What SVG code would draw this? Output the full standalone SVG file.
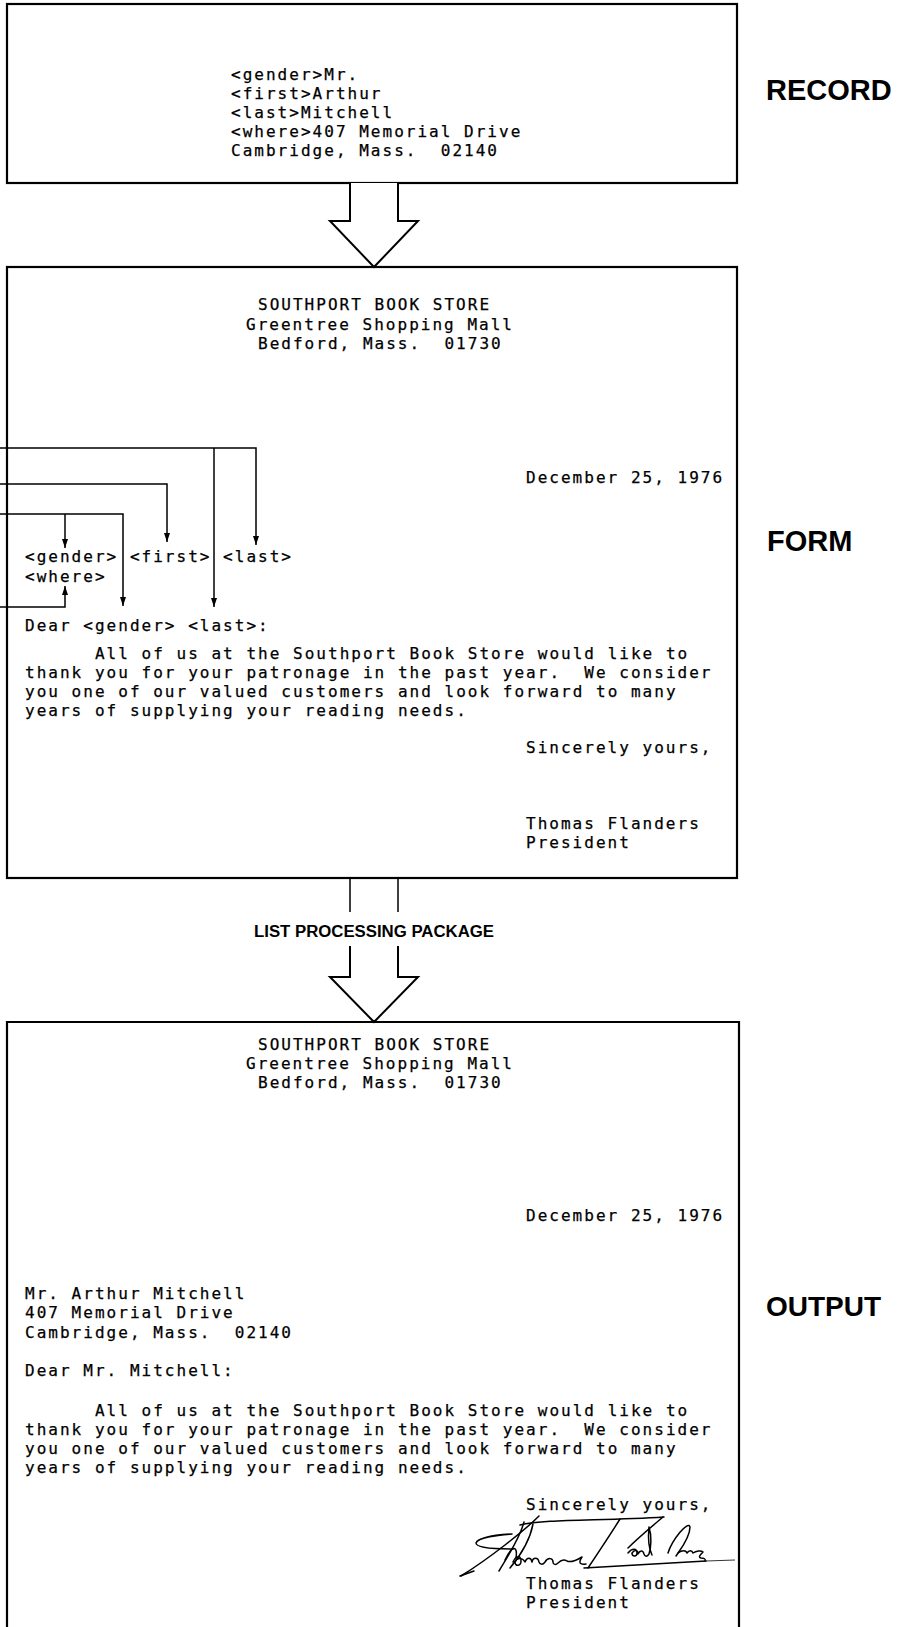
<svg xmlns="http://www.w3.org/2000/svg" width="900" height="1627" viewBox="0 0 900 1627" xml:space="preserve">
<style>
.box{fill:none;stroke:#000;stroke-width:2.2}
.tt{font-family:"DejaVu Sans Mono","Liberation Mono",monospace;font-size:16px;letter-spacing:2.02px;fill:#000;stroke:#000;stroke-width:0.25;white-space:pre}
.lbl{font-family:"Liberation Sans",Arial,sans-serif;font-weight:bold;fill:#000}
.arrow{fill:#fff;stroke:#000;stroke-width:2}
.lead{fill:none;stroke:#000;stroke-width:1.5}
.sig{fill:none;stroke:#000;stroke-width:1.5;stroke-linecap:round;stroke-linejoin:round}
</style>
<defs>
<marker id="ah" viewBox="0 0 9 6" refX="9" refY="3" markerWidth="9" markerHeight="6" markerUnits="userSpaceOnUse" orient="auto">
<path d="M0,0 L9,3 L0,6 z" fill="#000"/>
</marker>
</defs>
<rect width="900" height="1627" fill="#fff"/>

<g id="record">
<rect class="box" x="7" y="4" width="730" height="179"/>
<text class="tt" x="231" y="80">&lt;gender&gt;Mr.</text>
<text class="tt" x="231" y="99">&lt;first&gt;Arthur</text>
<text class="tt" x="231" y="118">&lt;last&gt;Mitchell</text>
<text class="tt" x="231" y="137">&lt;where&gt;407 Memorial Drive</text>
<text class="tt" x="231" y="156">Cambridge, Mass.  02140</text>
</g>
<g id="record-label">
<text class="lbl" x="766" y="100" font-size="29">RECORD</text>
</g>

<g id="form">
<rect class="box" x="7" y="267" width="730" height="611"/>
<text class="tt" x="258" y="310">SOUTHPORT BOOK STORE</text>
<text class="tt" x="246" y="330">Greentree Shopping Mall</text>
<text class="tt" x="258" y="349">Bedford, Mass.  01730</text>
<text class="tt" x="526" y="483">December 25, 1976</text>
<text class="tt" x="25" y="562">&lt;gender&gt; &lt;first&gt; &lt;last&gt;</text>
<text class="tt" x="25" y="582">&lt;where&gt;</text>
<text class="tt" x="25" y="631">Dear &lt;gender&gt; &lt;last&gt;:</text>
<text class="tt" x="25" y="659">      All of us at the Southport Book Store would like to</text>
<text class="tt" x="25" y="678">thank you for your patronage in the past year.  We consider</text>
<text class="tt" x="25" y="697">you one of our valued customers and look forward to many</text>
<text class="tt" x="25" y="716">years of supplying your reading needs.</text>
<text class="tt" x="526" y="753">Sincerely yours,</text>
<text class="tt" x="526" y="829">Thomas Flanders</text>
<text class="tt" x="526" y="848">President</text>
</g>
<g id="form-label">
<text class="lbl" x="767" y="551" font-size="29">FORM</text>
</g>

<g id="output">
<path class="box" d="M7,1630 V1022 H739 V1630"/>
<text class="tt" x="258" y="1050">SOUTHPORT BOOK STORE</text>
<text class="tt" x="246" y="1069">Greentree Shopping Mall</text>
<text class="tt" x="258" y="1088">Bedford, Mass.  01730</text>
<text class="tt" x="526" y="1221">December 25, 1976</text>
<text class="tt" x="25" y="1299">Mr. Arthur Mitchell</text>
<text class="tt" x="25" y="1318">407 Memorial Drive</text>
<text class="tt" x="25" y="1338">Cambridge, Mass.  02140</text>
<text class="tt" x="25" y="1376">Dear Mr. Mitchell:</text>
<text class="tt" x="25" y="1416">      All of us at the Southport Book Store would like to</text>
<text class="tt" x="25" y="1435">thank you for your patronage in the past year.  We consider</text>
<text class="tt" x="25" y="1454">you one of our valued customers and look forward to many</text>
<text class="tt" x="25" y="1473">years of supplying your reading needs.</text>
<text class="tt" x="526" y="1510">Sincerely yours,</text>
<text class="tt" x="526" y="1589">Thomas Flanders</text>
<text class="tt" x="526" y="1608">President</text>
<g id="signature">
<path class="sig" d="M520,1525 C545,1519 600,1521 664,1517"/>
<path class="sig" d="M512,1534 C495,1535 478,1538 476,1543 C476,1548 495,1549 513,1549"/>
<path class="sig" d="M539,1516 C525,1530 490,1558 461,1576"/>
<path class="sig" d="M524,1522 C520,1538 508,1556 499,1571"/>
<path class="sig" d="M533,1524 C530,1540 520,1556 510,1568"/>
<path class="sig" d="M505,1560 C512,1545 518,1545 516,1558"/>
<path class="sig" d="M513,1562 c3,-7 8,-7 8,-1 c0,5 -6,6 -6,1 c2,-5 8,-4 10,0 c2,-5 6,-5 7,0 c1,-5 6,-5 7,0 c1,3 4,3 6,0 c3,-5 8,-4 8,0 c0,3 3,3 5,1 c3,-3 6,-4 9,-2 c4,2 10,-1 15,-4 c-4,6 -2,8 4,7"/>
<path class="sig" d="M620,1519 C612,1532 600,1550 588,1568"/>
<path class="sig" d="M663,1517 C650,1528 638,1538 628,1548"/>
<path class="sig" d="M628,1553 c4,-5 9,-5 9,0 c0,4 -5,4 -5,0 c3,-4 6,-3 6,1 c2,-4 5,-4 6,0 c1,3 3,3 5,0 c2,-6 3,-18 0,-27 c-1,10 0,22 3,28"/>
<path class="sig" d="M668,1553 C672,1540 688,1520 690,1527 C690,1538 680,1550 676,1556"/>
<path class="sig" d="M678,1553 c4,-3 8,-3 9,0 c2,-3 5,-3 6,0 c3,-2 8,-3 10,-1 c-3,3 -5,5 -2,6 c3,0 5,1 4,3"/>
<path class="sig" d="M584,1568 C620,1566 670,1563 706,1561"/>
<path d="M706,1561 L735,1560" fill="none" stroke="#000" stroke-width="0.8"/>
<path class="sig" d="M460,1576 L474,1571"/>
</g>
</g>
<g id="output-label">
<text class="lbl" x="766" y="1316" font-size="28">OUTPUT</text>
</g>

<g id="connectors">
<path class="arrow" d="M350,183 V221 H330 L374,267 L418,221 H398 V183"/>
<path class="lead" d="M350,878 V912 M398,878 V912"/>
<path class="arrow" d="M350,946 V977 H330 L374,1022 L418,977 H398 V946"/>
<text class="lbl" x="374" y="937" font-size="16" text-anchor="middle" textLength="240" lengthAdjust="spacingAndGlyphs">LIST PROCESSING PACKAGE</text>
<path class="lead" d="M0,448 H256 V545" marker-end="url(#ah)"/>
<path class="lead" d="M214,448 V607" marker-end="url(#ah)"/>
<path class="lead" d="M0,484 H167 V542" marker-end="url(#ah)"/>
<path class="lead" d="M0,514 H123 V606" marker-end="url(#ah)"/>
<path class="lead" d="M65,514 V548" marker-end="url(#ah)"/>
<path class="lead" d="M0,607 H65 V586" marker-end="url(#ah)"/>
</g>
</svg>
